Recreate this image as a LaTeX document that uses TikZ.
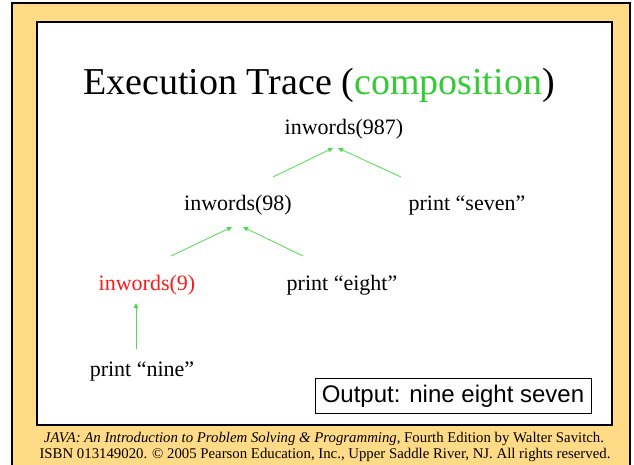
\documentclass[tikz,border=0pt]{standalone}
\usepackage{fontspec}
\setmainfont{Liberation Serif}
\setsansfont{Liberation Sans}
\usetikzlibrary{arrows.meta}

\definecolor{slideframe}{RGB}{255,218,135}
\definecolor{titlegreen}{RGB}{51,204,51}
\definecolor{linkgreen}{RGB}{80,220,80}
\definecolor{callred}{RGB}{255,25,25}

\tikzset{
  call/.style={font=\fontsize{22}{26}\selectfont, inner sep=0pt, anchor=base},
  back/.style={-{Triangle[length=5pt,width=4.5pt]}, draw=linkgreen, line width=0.8pt},
}

\begin{document}
\begin{tikzpicture}[x=1pt,y=-1pt]
    \useasboundingbox (0,0) rectangle (634,465);

    % slide frame and page
    \fill[slideframe] (12,3) rectangle (630,465);
    \draw[line width=1.5pt] (12,465) -- (12,3) -- (630,3) -- (630,465);
    \draw[line width=2pt, fill=white] (37,22) rectangle (612,425);

    \node[anchor=base, inner sep=0pt, font=\fontsize{38}{44}\selectfont] (title) at (319,95)
        {Execution Trace (\textcolor{titlegreen}{composition})};

    % the calls
    \node[call] (A) at (344,135) {inwords(987)};
    \node[call] (B) at (238,211) {inwords(98)};
    \node[call] (C) at (467,211) {print \textquotedblleft seven\textquotedblright};
    \node[call, text=callred] (D) at (147,290) {inwords(9)};
    \node[call] (E) at (342,290) {print \textquotedblleft eight\textquotedblright};
    \node[call] (F) at (142,376) {print \textquotedblleft nine\textquotedblright};

    % arrow ends
    \coordinate (AL) at (333,148);
    \coordinate (AR) at (338,148);
    \coordinate (BL) at (232,227);
    \coordinate (BR) at (243,227);
    \coordinate (DM) at (136,303);
    \coordinate (BS) at (273,177);
    \coordinate (CS) at (401,177);
    \coordinate (DS) at (171,256);
    \coordinate (ES) at (303,256);
    \coordinate (FS) at (136,349);

    \path (BS) edge [back] node {} (AL);
    \path (CS) edge [back] node {} (AR);
    \path (DS) edge [back] node {} (BL);
    \path (ES) edge [back] node {} (BR);
    \path (FS) edge [back] node {} (DM);

    \node[draw, line width=1pt, fill=white, font=\sffamily\fontsize{24}{28}\selectfont,
        minimum width=276pt, minimum height=35pt, inner sep=0pt] (out) at (453,396)
        {Output: nine eight seven};

    % footer
    \node[anchor=base, inner sep=0pt, font=\fontsize{14.8}{17}\selectfont] (foot1) at (324,442)
        {\textit{JAVA: An Introduction to Problem Solving \& Programming}, Fourth Edition by Walter Savitch.};
    \node[anchor=base, inner sep=0pt, font=\fontsize{14.8}{17}\selectfont] (foot2) at (325,458)
        {ISBN 013149020. \textcopyright{} 2005 Pearson Education, Inc., Upper Saddle River, NJ. All rights reserved.};
\end{tikzpicture}
\end{document}
